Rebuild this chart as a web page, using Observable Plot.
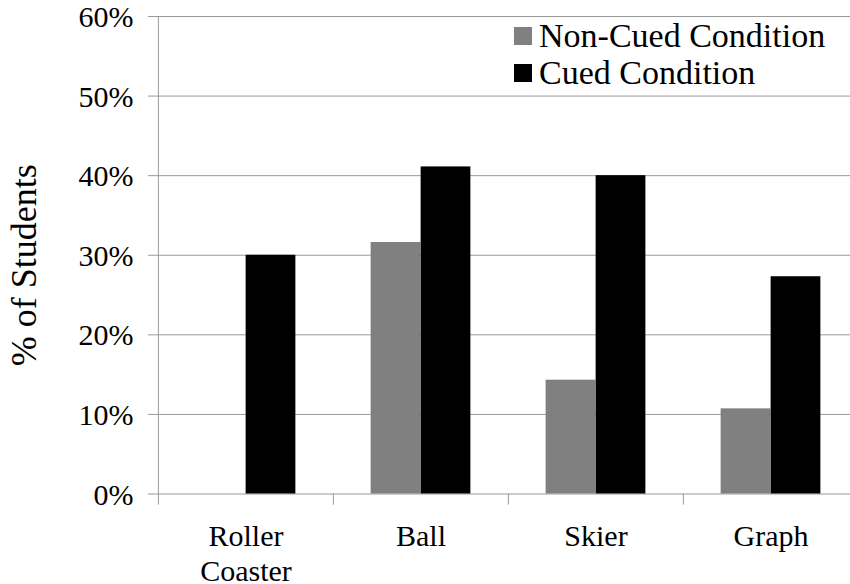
<!DOCTYPE html>
<html><head><meta charset="utf-8">
<script src="https://cdn.jsdelivr.net/npm/d3@7"></script>
<script src="https://cdn.jsdelivr.net/npm/@observablehq/plot@0.6"></script>
<style>
body{margin:0;background:#fff;}
#wrap{position:relative;width:850px;height:584px;}
#wrap, #wrap *{font-family:"Liberation Serif","Times New Roman",serif;}
.leg{position:absolute;left:514px;height:37px;line-height:37px;font-size:34px;white-space:nowrap;color:#000;}
.sw{position:absolute;left:0;top:10px;width:18px;height:18px;}
.lt{position:absolute;left:25px;top:0;}
</style></head><body><div id="wrap"></div>
<script>
const categories = ["Roller Coaster", "Ball", "Skier", "Graph"];
const categoryLabels = ["Roller\nCoaster", "Ball", "Skier", "Graph"];
const seriesNames = ["Non-Cued Condition", "Cued Condition"];
const nonCued = [0, 31.6, 14.3, 10.7];
const cued = [30.0, 41.1, 40.0, 27.3];
const yTicks = [0, 10, 20, 30, 40, 50, 60];
const seriesColors = ["#808080", "#000000"];
const yTitle = "% of Students";

const rows = categories.map((c, i) => ({category: c, nonCued: nonCued[i], cued: cued[i]}));
const xRange = [157, 858];
const half = (xRange[1] - xRange[0]) / categories.length / 2;
const barW = 50;
const grid = "#9a9a9a";

const chart = Plot.plot({
  width: 850, height: 584,
  marginLeft: 157, marginRight: 0, marginTop: 16, marginBottom: 90.5,
  style: {fontFamily: '"Liberation Serif","Times New Roman",serif', fontSize: "30px", background: "white", color: "black", overflow: "visible"},
  x: {domain: categories, range: xRange, padding: 0, label: null},
  y: {domain: [0, 60], label: null},
  marks: [
    Plot.ruleY(yTicks, {y: d => d, stroke: grid, insetLeft: -9}),
    Plot.barY(rows, {x: "category", y: "nonCued", fill: seriesColors[0], insetLeft: half - barW, insetRight: half}),
    Plot.barY(rows, {x: "category", y: "cued", fill: seriesColors[1], insetLeft: half, insetRight: half - barW}),
    Plot.ruleX(categories, {x: d => d, dx: -half, y1: -1.4, y2: (d, i) => i === 0 ? 60 : 0, stroke: grid}),
    Plot.axisY({ticks: yTicks, tickFormat: d => d + "%", tickSize: 0, tickPadding: 24, label: null, dy: 1, fontSize: 30}),
    Plot.axisX({tickSize: 0, tickPadding: 27, tickFormat: d => categoryLabels[categories.indexOf(d)], lineHeight: 35 / 30, label: null, fontSize: 30}),
    Plot.text([yTitle], {frameAnchor: "left", textAnchor: "middle", text: d => d, rotate: -90, dx: -133.5, dy: 10, fontSize: 36})
  ]
});
const wrap = document.getElementById("wrap");
wrap.appendChild(chart);
seriesNames.forEach((name, i) => {
  const row = document.createElement("div");
  row.className = "leg";
  row.style.top = (17 + i * 37) + "px";
  const sw = document.createElement("span");
  sw.className = "sw";
  sw.style.background = seriesColors[i];
  const t = document.createElement("span");
  t.className = "lt";
  t.textContent = name;
  row.appendChild(sw); row.appendChild(t);
  wrap.appendChild(row);
});
</script></body></html>
